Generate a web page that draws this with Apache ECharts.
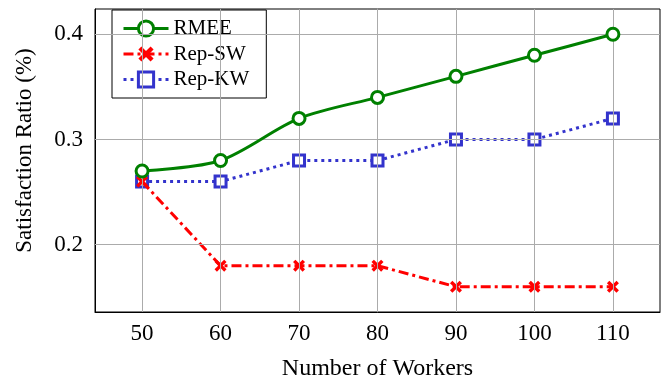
<!DOCTYPE html>
<html>
<head>
<meta charset="utf-8">
<script src="https://cdn.jsdelivr.net/npm/echarts@6/dist/echarts.min.js"></script>
<style>html,body{margin:0;padding:0;background:#fff}#c{width:664px;height:377px}</style>
</head>
<body>
<div id="c"></div>
<script>
const workers = [50, 60, 70, 80, 90, 100, 110];
const rmee   = [0.27, 0.28, 0.32, 0.34, 0.36, 0.38, 0.40];
const repSW  = [0.26, 0.18, 0.18, 0.18, 0.16, 0.16, 0.16];
const repKW  = [0.26, 0.26, 0.28, 0.28, 0.30, 0.30, 0.32];
const xTicks = [50, 60, 70, 80, 90, 100, 110];
const yTicks = [0.2, 0.3, 0.4];

const FONT = '"Liberation Serif", "DejaVu Serif", serif';
const pair = a => workers.map((w, i) => [w, a[i]]);
const xPath = 'path://M2,0 L5,3 L8,0 L10,2 L7,5 L10,8 L8,10 L5,7 L2,10 L0,8 L3,5 L0,2 Z';

const gridLines = [];
xTicks.forEach(v => gridLines.push({ xAxis: v }));
yTicks.forEach(v => gridLines.push({ yAxis: v }));

const chart = echarts.init(document.getElementById('c'), null, { renderer: 'canvas' });
chart.setOption({
  animation: false,
  backgroundColor: '#fff',
  grid: { left: 95, right: 4, top: 9, bottom: 65, show: true, borderColor: '#000', borderWidth: 1, containLabel: false, outerBoundsMode: 'none' },
  xAxis: {
    type: 'value', min: 44, max: 116,
    name: 'Number of Workers', nameLocation: 'middle', nameGap: 45,
    nameTextStyle: { fontFamily: FONT, fontSize: 24, color: '#000' },
    axisLine: { show: true, lineStyle: { color: '#000', width: 1 } },
    axisTick: { show: true, inside: true, length: 4, customValues: xTicks, lineStyle: { color: '#000' } },
    axisLabel: { customValues: xTicks, margin: 10, fontFamily: FONT, fontSize: 23, color: '#000', formatter: v => String(v) },
    splitLine: { show: false }
  },
  yAxis: {
    type: 'value', min: 0.136, max: 0.424,
    name: 'Satisfaction Ratio (%)', nameLocation: 'middle', nameGap: 59,
    nameTextStyle: { fontFamily: FONT, fontSize: 23, color: '#000', padding: [0, 0, 0, 20] },
    axisLine: { show: true, lineStyle: { color: '#000', width: 1 } },
    axisTick: { show: true, inside: true, length: 4, customValues: yTicks, lineStyle: { color: '#000' } },
    axisLabel: { customValues: yTicks, margin: 12, fontFamily: FONT, fontSize: 23, color: '#000', formatter: v => v.toFixed(1) },
    splitLine: { show: false }
  },
  legend: {
    left: 112, top: 10, orient: 'vertical',
    backgroundColor: '#fff', borderColor: '#000', borderWidth: 1,
    padding: [8, 17, 8, 10], itemGap: 4.5, itemWidth: 45, itemHeight: 19,
    lineStyle: { width: 3 },
    itemStyle: { borderWidth: 3 },
    textStyle: { fontFamily: FONT, fontSize: 21, color: '#000', lineHeight: 21, verticalAlign: 'middle' },
    data: ['RMEE', 'Rep-SW', 'Rep-KW']
  },
  series: [
    {
      name: 'grid', type: 'line', data: [], z: 1, silent: true,
      markLine: {
        silent: true, symbol: 'none', label: { show: false },
        lineStyle: { color: '#ababab', type: 'solid', width: 1 },
        data: gridLines
      }
    },
    {
      name: 'RMEE', type: 'line', data: pair(rmee), z: 5, smooth: 0.3,
      symbol: 'circle', symbolSize: 12,
      lineStyle: { color: '#008000', width: 3 },
      itemStyle: { color: '#fff', borderColor: '#008000', borderWidth: 3 }
    },
    {
      name: 'Rep-SW', type: 'line', data: pair(repSW), z: 4,
      symbol: xPath, symbolSize: 12,
      lineStyle: { color: '#ff0000', width: 3, type: [10, 4, 3, 4] },
      itemStyle: { color: '#ff0000', borderWidth: 0 }
    },
    {
      name: 'Rep-KW', type: 'line', data: pair(repKW), z: 3,
      symbol: 'rect', symbolSize: 11,
      lineStyle: { color: '#3333cc', width: 3, type: [3, 4] },
      itemStyle: { color: '#fff', borderColor: '#3333cc', borderWidth: 3 }
    }
  ]
});
</script>
</body>
</html>
